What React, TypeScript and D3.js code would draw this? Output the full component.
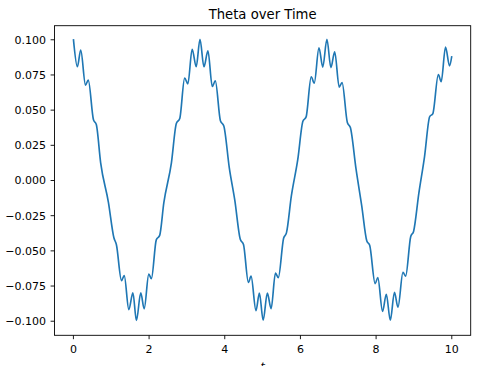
import React from "react";
import * as d3 from "d3";

// values (local extrema, shoulders and a few slope points)
const tValues = [
  0.0, 0.105, 0.193, 0.32, 0.392, 0.53, 0.605, 0.72, 0.925, 1.07, 1.135, 1.272, 1.343, 1.465, 1.572,
  1.665, 1.78, 1.87, 1.992, 2.06, 2.19, 2.28, 2.39, 2.59, 2.72, 2.81, 2.94, 3.025, 3.138, 3.245,
  3.345, 3.45, 3.555, 3.67, 3.75, 3.885, 3.975, 4.12, 4.265, 4.41, 4.495, 4.625, 4.695, 4.825, 4.915,
  5.015, 5.125, 5.225, 5.34, 5.415, 5.555, 5.63, 5.76, 5.93, 6.065, 6.15, 6.285, 6.365, 6.49, 6.59,
  6.7, 6.805, 6.905, 7.025, 7.1, 7.24, 7.32, 7.47, 7.62, 7.755, 7.83, 7.975, 8.045, 8.17, 8.27,
  8.375, 8.485, 8.578, 8.71, 8.78, 8.915, 8.99, 9.13, 9.28, 9.415, 9.5, 9.645, 9.72, 9.835, 9.94, 10.0,
];
const thetaValues = [
  0.1005, 0.0808, 0.0927, 0.0678, 0.0714, 0.0432, 0.0398, 0.0126, -0.0155, -0.0407, -0.0455, -0.0712, -0.0675, -0.0918, -0.0798,
  -0.0995, -0.0799, -0.0912, -0.0665, -0.0698, -0.0422, -0.039, -0.0158, 0.0126, 0.0405, 0.044, 0.0728, 0.0687, 0.0933, 0.0808,
  0.1003, 0.0808, 0.0922, 0.0668, 0.0708, 0.0425, 0.0388, 0.009, -0.014, -0.0418, -0.0455, -0.0725, -0.068, -0.0925, -0.08,
  -0.0993, -0.08, -0.091, -0.0658, -0.069, -0.041, -0.0372, -0.011, 0.015, 0.0421, 0.0452, 0.0737, 0.0692, 0.0943, 0.0806,
  0.1003, 0.0802, 0.0915, 0.0664, 0.0696, 0.0412, 0.0376, 0.008, -0.018, -0.043, -0.046, -0.0733, -0.069, -0.093, -0.0808,
  -0.0993, -0.0795, -0.09, -0.0652, -0.068, -0.0398, -0.0362, -0.009, 0.017, 0.0453, 0.0476, 0.0753, 0.0702, 0.0948, 0.0815, 0.0884,
];
const xTicks = [0, 2, 4, 6, 8, 10];
const yTicks = [-0.1, -0.075, -0.05, -0.025, 0, 0.025, 0.05, 0.075, 0.1];

const W = 484, H = 366;
const left = 54.5, right = 470.7, top = 25.7, bottom = 335.3;
const font = "'DejaVu Sans', sans-serif";

export default function App() {
  const x = d3.scaleLinear().domain([-0.5, 10.5]).range([left, right]);
  const y = d3.scaleLinear().domain([-0.11, 0.11]).range([bottom, top]);
  const pts = tValues.map((t, i) => [t, thetaValues[i]] as [number, number]);
  const line = d3.line<[number, number]>()
    .x(d => x(d[0]))
    .y(d => y(d[1]))
    .curve(d3.curveMonotoneX);
  const fmt = (v: number) => d3.format(".3f")(v).replace("-", "\u2212");

  return (
    <svg width={W} height={H} style={{ position: "absolute", left: 0, top: 0, background: "#fff" }}>
      <text x={(left + right) / 2} y={19} textAnchor="middle" fontFamily={font} fontSize={13.2}>
        Theta over Time
      </text>
      <path d={line(pts) || ""} fill="none" stroke="#1f77b4" strokeWidth={1.65} strokeLinejoin="round" />
      {xTicks.map(t => (
        <g key={"x" + t} transform={`translate(${x(t)},${bottom})`}>
          <line y2={3.9} stroke="#000" strokeWidth={0.9} />
          <text y={17.5} textAnchor="middle" fontFamily={font} fontSize={11}>{t}</text>
        </g>
      ))}
      {yTicks.map(v => (
        <g key={"y" + v} transform={`translate(${left},${y(v)})`}>
          <line x2={-3.9} stroke="#000" strokeWidth={0.9} />
          <text x={-8.5} dy="0.36em" textAnchor="end" fontFamily={font} fontSize={11}>{fmt(v)}</text>
        </g>
      ))}
      <rect x={left} y={top} width={right - left} height={bottom - top} fill="none" stroke="#000" strokeWidth={0.9} />
      <text x={(left + right) / 2} y={369.5} textAnchor="middle" fontFamily={font} fontStyle="italic" fontSize={11}>t</text>
    </svg>
  );
}
